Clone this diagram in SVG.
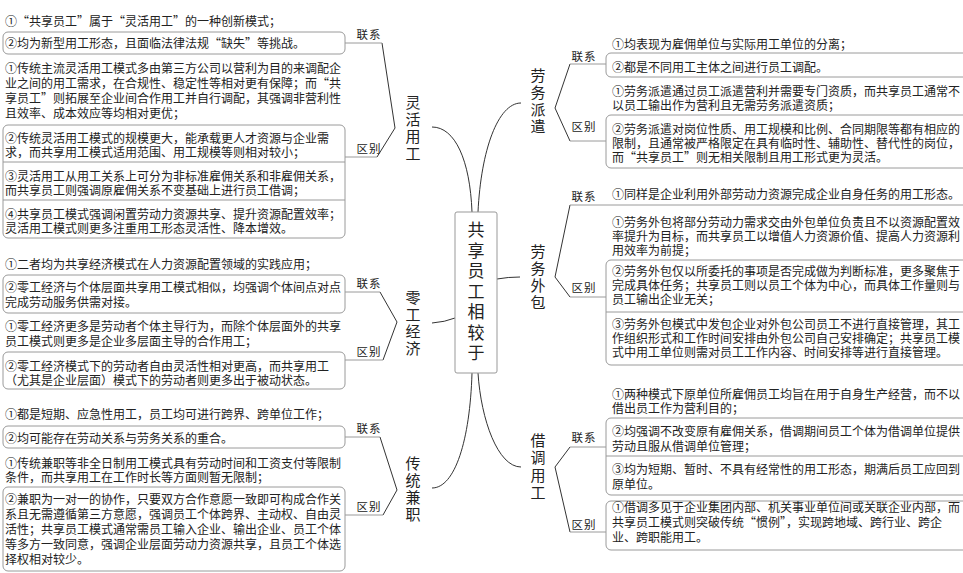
<svg xmlns="http://www.w3.org/2000/svg" width="963" height="573" viewBox="0 0 963 573">
<style>
.t{font-family:"Noto Sans CJK SC","Liberation Sans",sans-serif;font-size:12px;fill:#222}
.lb{font-family:"Noto Sans CJK SC","Liberation Sans",sans-serif;font-size:11.5px;fill:#222;text-anchor:middle;letter-spacing:1px}
.br{font-family:"Noto Sans CJK SC","Liberation Sans",sans-serif;font-size:15px;fill:#222;text-anchor:middle}
.c{font-family:"Noto Sans CJK SC","Liberation Sans",sans-serif;font-size:17px;fill:#222;text-anchor:middle}
.box{fill:none;stroke:#9a9a9a;stroke-width:1}
.ln{fill:none;stroke:#333;stroke-width:1}
</style>
<rect width="963" height="573" fill="#fff"/>
<g id="connectors">
<path class="ln" d="M432,127 C455,127 470,160 472,212"/>
<path class="ln" d="M521,103 C498,103 481,150 478,212"/>
<path class="ln" d="M432,323 Q445,322 455,318"/>
<path class="ln" d="M497,279 Q508,277 520,277"/>
<path class="ln" d="M432,488 C455,488 470,440 472,373"/>
<path class="ln" d="M521,467 C498,467 481,420 478,373"/>
<path class="ln" d="M382,43 L395,128 L377,157"/>
<path class="ln" d="M380,292 L397,322 L383,360"/>
<path class="ln" d="M380,437 L397,490 L383,515"/>
<path class="ln" d="M570,64 L555,108 L570,141"/>
<path class="ln" d="M570,205 L555,277 L570,297"/>
<path class="ln" d="M570,447 L555,467 L570,532"/>
<g class="box">
<line x1="345" y1="43" x2="382" y2="43"/><line x1="345" y1="157" x2="377" y2="157"/>
<line x1="345" y1="292" x2="380" y2="292"/><line x1="345" y1="360" x2="383" y2="360"/>
<line x1="345" y1="437" x2="380" y2="437"/><line x1="345" y1="515" x2="383" y2="515"/>
<line x1="570" y1="64" x2="606" y2="64"/><line x1="570" y1="141" x2="606" y2="141"/>
<line x1="570" y1="205" x2="963" y2="205"/><line x1="570" y1="297" x2="606" y2="297"/>
<line x1="570" y1="447" x2="606" y2="447"/><line x1="570" y1="532" x2="606" y2="532"/>
</g>
</g>
<g id="center">
<rect x="455" y="212" width="42" height="161" rx="2" fill="#fff" stroke="#999"/>
<text class="c"><tspan x="476" y="236">共</tspan><tspan x="476" y="256.5">享</tspan><tspan x="476" y="277">员</tspan><tspan x="476" y="297.5">工</tspan><tspan x="476" y="318">相</tspan><tspan x="476" y="338.5">较</tspan><tspan x="476" y="359">于</tspan></text>
</g>
<g id="linghuo">
<text class="br"><tspan x="413" y="108">灵</tspan><tspan x="413" y="125">活</tspan><tspan x="413" y="142">用</tspan><tspan x="413" y="159">工</tspan></text>
<g id="linghuo-lianxi">
<text class="lb" x="369" y="39">联系</text>
<rect class="box" x="3" y="32" width="342" height="22" rx="5"/>
<text class="t" x="5" y="26">①“共享员工”属于“灵活用工”的一种创新模式；</text>
<text class="t" x="5" y="48">②均为新型用工形态，且面临法律法规“缺失”等挑战。</text>
</g>
<g id="linghuo-qubie">
<text class="lb" x="369" y="153">区别</text>
<rect class="box" x="3" y="125" width="342" height="113" rx="5"/>
<line class="box" x1="3" y1="162" x2="345" y2="162"/><line class="box" x1="3" y1="200" x2="345" y2="200"/>
<text class="t"><tspan x="5" y="73">①传统主流灵活用工模式多由第三方公司以营利为目的来调配企</tspan><tspan x="5" y="88">业之间的用工需求，在合规性、稳定性等相对更有保障；而“共</tspan><tspan x="5" y="103">享员工”则拓展至企业间合作用工并自行调配，其强调非营利性</tspan><tspan x="5" y="118">且效率、成本效应等均相对更优；</tspan></text>
<text class="t"><tspan x="5" y="143">②传统灵活用工模式的规模更大，能承载更人才资源与企业需</tspan><tspan x="5" y="157">求，而共享用工模式适用范围、用工规模等则相对较小；</tspan></text>
<text class="t"><tspan x="5" y="181">③灵活用工从用工关系上可分为非标准雇佣关系和非雇佣关系，</tspan><tspan x="5" y="195">而共享员工则强调原雇佣关系不变基础上进行员工借调；</tspan></text>
<text class="t"><tspan x="5" y="219">④共享员工模式强调闲置劳动力资源共享、提升资源配置效率；</tspan><tspan x="5" y="233">灵活用工模式则更多注重用工形态灵活性、降本增效。</tspan></text>
</g>
</g>
<g id="linggong">
<text class="br"><tspan x="413" y="303">零</tspan><tspan x="413" y="320">工</tspan><tspan x="413" y="337">经</tspan><tspan x="413" y="354">济</tspan></text>
<g id="linggong-lianxi">
<text class="lb" x="369" y="288">联系</text>
<rect class="box" x="3" y="275" width="342" height="38" rx="5"/>
<text class="t" x="5" y="269">①二者均为共享经济模式在人力资源配置领域的实践应用；</text>
<text class="t"><tspan x="5" y="292">②零工经济与个体层面共享用工模式相似，均强调个体间点对点</tspan><tspan x="5" y="307">完成劳动服务供需对接。</tspan></text>
</g>
<g id="linggong-qubie">
<text class="lb" x="369" y="356">区别</text>
<rect class="box" x="3" y="352" width="342" height="37" rx="5"/>
<text class="t"><tspan x="5" y="331">①零工经济更多是劳动者个体主导行为，而除个体层面外的共享</tspan><tspan x="5" y="346">员工模式则更多是企业多层面主导的合作用工；</tspan></text>
<text class="t"><tspan x="5" y="371">②零工经济模式下的劳动者自由灵活性相对更高，而共享用工</tspan><tspan x="5" y="385">（尤其是企业层面）模式下的劳动者则更多出于被动状态。</tspan></text>
</g>
</g>
<g id="jianzhi">
<text class="br"><tspan x="413" y="469">传</tspan><tspan x="413" y="486">统</tspan><tspan x="413" y="503">兼</tspan><tspan x="413" y="520">职</tspan></text>
<g id="jianzhi-lianxi">
<text class="lb" x="369" y="433">联系</text>
<rect class="box" x="3" y="426" width="342" height="22" rx="5"/>
<text class="t" x="5" y="419">①都是短期、应急性用工，员工均可进行跨界、跨单位工作；</text>
<text class="t" x="5" y="443">②均可能存在劳动关系与劳务关系的重合。</text>
</g>
<g id="jianzhi-qubie">
<text class="lb" x="369" y="511">区别</text>
<rect class="box" x="3" y="487" width="342" height="84" rx="5"/>
<text class="t"><tspan x="5" y="468">①传统兼职等非全日制用工模式具有劳动时间和工资支付等限制</tspan><tspan x="5" y="482">条件，而共享用工在工作时长等方面则暂无限制；</tspan></text>
<text class="t"><tspan x="5" y="504">②兼职为一对一的协作，只要双方合作意愿一致即可构成合作关</tspan><tspan x="5" y="519">系且无需遵循第三方意愿，强调员工个体跨界、主动权、自由灵</tspan><tspan x="5" y="534">活性；共享员工模式通常需员工输入企业、输出企业、员工个体</tspan><tspan x="5" y="549">等多方一致同意，强调企业层面劳动力资源共享，且员工个体选</tspan><tspan x="5" y="564">择权相对较少。</tspan></text>
</g>
</g>
<g id="paiqian">
<text class="br"><tspan x="538" y="81">劳</tspan><tspan x="538" y="98">务</tspan><tspan x="538" y="115">派</tspan><tspan x="538" y="132">遣</tspan></text>
<g id="paiqian-lianxi">
<text class="lb" x="584" y="61">联系</text>
<rect class="box" x="606" y="53" width="370" height="24" rx="5"/>
<text class="t" x="612" y="49">①均表现为雇佣单位与实际用工单位的分离；</text>
<text class="t" x="612" y="72">②都是不同用工主体之间进行员工调配。</text>
</g>
<g id="paiqian-qubie">
<text class="lb" x="584" y="131">区别</text>
<rect class="box" x="606" y="115" width="370" height="53" rx="5"/>
<text class="t"><tspan x="612" y="96">①劳务派遣通过员工派遣营利并需要专门资质，而共享员工通常不</tspan><tspan x="612" y="110">以员工输出作为营利且无需劳务派遣资质；</tspan></text>
<text class="t"><tspan x="612" y="134">②劳务派遣对岗位性质、用工规模和比例、合同期限等都有相应的</tspan><tspan x="612" y="148">限制，且通常被严格限定在具有临时性、辅助性、替代性的岗位，</tspan><tspan x="612" y="162">而“共享员工”则无相关限制且用工形式更为灵活。</tspan></text>
</g>
</g>
<g id="waibao">
<text class="br"><tspan x="538" y="257">劳</tspan><tspan x="538" y="274">务</tspan><tspan x="538" y="291">外</tspan><tspan x="538" y="308">包</tspan></text>
<g id="waibao-lianxi">
<text class="lb" x="584" y="201">联系</text>
<text class="t" x="612" y="199">①同样是企业利用外部劳动力资源完成企业自身任务的用工形态。</text>
</g>
<g id="waibao-qubie">
<text class="lb" x="584" y="292">区别</text>
<rect class="box" x="606" y="260" width="370" height="105" rx="5"/>
<line class="box" x1="606" y1="312" x2="963" y2="312"/>
<text class="t"><tspan x="612" y="227">①劳务外包将部分劳动力需求交由外包单位负责且不以资源配置效</tspan><tspan x="612" y="241">率提升为目标，而共享员工以增值人力资源价值、提高人力资源利</tspan><tspan x="612" y="255">用效率为前提；</tspan></text>
<text class="t"><tspan x="612" y="276">②劳务外包仅以所委托的事项是否完成做为判断标准，更多聚焦于</tspan><tspan x="612" y="290">完成具体任务；共享员工则以员工个体为中心，而具体工作量则与</tspan><tspan x="612" y="304">员工输出企业无关；</tspan></text>
<text class="t"><tspan x="612" y="329">③劳务外包模式中发包企业对外包公司员工不进行直接管理，其工</tspan><tspan x="612" y="343">作组织形式和工作时间安排由外包公司自己安排确定；共享员工模</tspan><tspan x="612" y="357">式中用工单位则需对员工工作内容、时间安排等进行直接管理。</tspan></text>
</g>
</g>
<g id="jiediao">
<text class="br"><tspan x="538" y="446">借</tspan><tspan x="538" y="463">调</tspan><tspan x="538" y="481">用</tspan><tspan x="538" y="498">工</tspan></text>
<g id="jiediao-lianxi">
<text class="lb" x="584" y="442">联系</text>
<rect class="box" x="606" y="418" width="370" height="77" rx="5"/>
<line class="box" x1="606" y1="456" x2="963" y2="456"/>
<text class="t"><tspan x="612" y="399">①两种模式下原单位所雇佣员工均旨在用于自身生产经营，而不以</tspan><tspan x="612" y="413">借出员工作为营利目的；</tspan></text>
<text class="t"><tspan x="612" y="436">②均强调不改变原有雇佣关系，借调期间员工个体为借调单位提供</tspan><tspan x="612" y="451">劳动且服从借调单位管理；</tspan></text>
<text class="t"><tspan x="612" y="474">③均为短期、暂时、不具有经常性的用工形态，期满后员工应回到</tspan><tspan x="612" y="489">原单位。</tspan></text>
</g>
<g id="jiediao-qubie">
<text class="lb" x="584" y="529">区别</text>
<rect class="box" x="606" y="501" width="370" height="49" rx="5"/>
<text class="t"><tspan x="612" y="512">①借调多见于企业集团内部、机关事业单位间或关联企业内部，而</tspan><tspan x="612" y="527">共享员工模式则突破传统“惯例”，实现跨地域、跨行业、跨企</tspan><tspan x="612" y="542">业、跨职能用工。</tspan></text>
</g>
</g>
</svg>
